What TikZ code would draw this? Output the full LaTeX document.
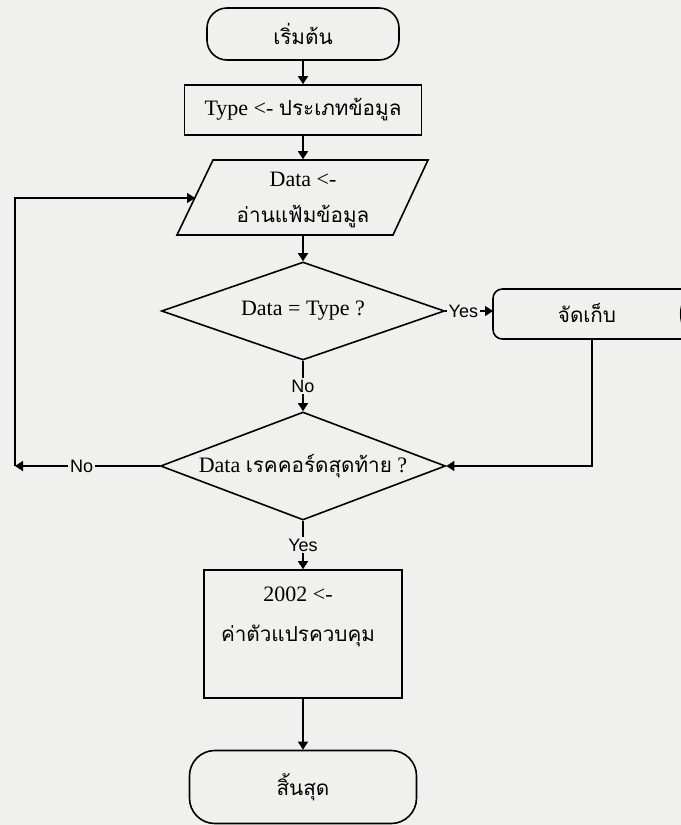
\documentclass[tikz,border=0pt]{standalone}
\usepackage{fontspec}
\setmainfont{Liberation Serif}
\newfontfamily\thai[Script=Thai]{Loma}
\newfontfamily\labfont{Liberation Sans}
\usetikzlibrary{shapes.geometric,arrows.meta}
\definecolor{paper}{RGB}{240,240,238}
\newcommand\thtxt[1]{{\thai\fontsize{15.5}{20}\selectfont #1}}
\begin{document}
\begin{tikzpicture}[x=0.75pt,y=-0.75pt,line width=1.2pt,
  every node/.style={inner sep=0pt,font=\fontsize{16.5}{27}\selectfont},
  thaitxt/.style={font=\thai\fontsize{15.5}{27}\selectfont},
  termbox/.style={draw,rectangle,rounded corners=#1},
  procbox/.style={draw,rectangle},
  decbox/.style={draw,diamond},
  arr/.style={-{Triangle[length=6pt,width=7.5pt]}},
  lbl/.style={font=\labfont\fontsize{13.5}{16}\selectfont,fill=paper,inner sep=1.5pt}]
\fill[paper] (0,0) rectangle (681,825);
\useasboundingbox (0,0) rectangle (681,825);

% start
\node[termbox=15pt,minimum width=144pt,minimum height=39pt] (start) at (303,34) {\thtxt{เริ่มต้น}};
% type
\node[procbox,minimum width=177.75pt,minimum height=37.5pt] (type) at (303,110) {Type <- \thtxt{ประเภทข้อมูล}};
% read (parallelogram)
\draw (213,160) -- (428,160) -- (393,235) -- (177,235) -- cycle;
\node[minimum width=150pt,minimum height=56.25pt] (read) at (303,197.5) {};
\node[align=center] (readtxt) at (303,200) {Data <-\\\thtxt{อ่านแฟ้มข้อมูล}};
\coordinate (readin) at (195,198);
% decision 1
\node[decbox,minimum width=212.25pt,minimum height=73.5pt,
  label={center:Data = Type ?}] (d1) at (303,311) {};
% store
\begin{scope}
\clip (0,0) rectangle (681,825);
\draw[rounded corners=7pt] (720,289) -- (493,289) -- (493,339) -- (720,339);
\draw (692,289) .. controls (677,300) and (677,328) .. (692,339);
\end{scope}
\node[thaitxt] (store) at (587,313) {จัดเก็บ};
\coordinate (storeL) at (493,311);
\coordinate (storeB) at (592,339);
% decision 2
\node[decbox,minimum width=213.75pt,minimum height=81pt,
  label={center:Data \thtxt{เรคคอร์ดสุดท้าย} ?}] (d2) at (303,466) {};
\coordinate (corner) at (15,466);
% control
\node[procbox,minimum width=148.5pt,minimum height=96pt] (ctl) at (303,634) {};
\node[align=center] (ctltxt) at (298,617) {2002 <-\\[3pt]\thtxt{ค่าตัวแปรควบคุม}};
% end
\node[termbox=19pt,minimum width=170.25pt,minimum height=54.75pt] (end) at (303,787) {\thtxt{สิ้นสุด}};

% connectors
\draw[arr] (start) -- (type);
\draw[arr] (type) -- (read);
\draw[arr] (read) -- (d1);
\draw[arr] (d1.east) -- node[lbl,pos=.38]{Yes} (storeL);
\draw[arr] (d1) -- node[lbl]{No} (d2);
\draw[arr] (d2.west) -- node[lbl,pos=.54]{No} (corner);
\draw[arr] (corner) |- (readin);
\draw[arr] (storeB) |- (d2.east);
\draw[arr] (d2) -- node[lbl]{Yes} (ctl);
\draw[arr] (ctl) -- (end);
\end{tikzpicture}
\end{document}
